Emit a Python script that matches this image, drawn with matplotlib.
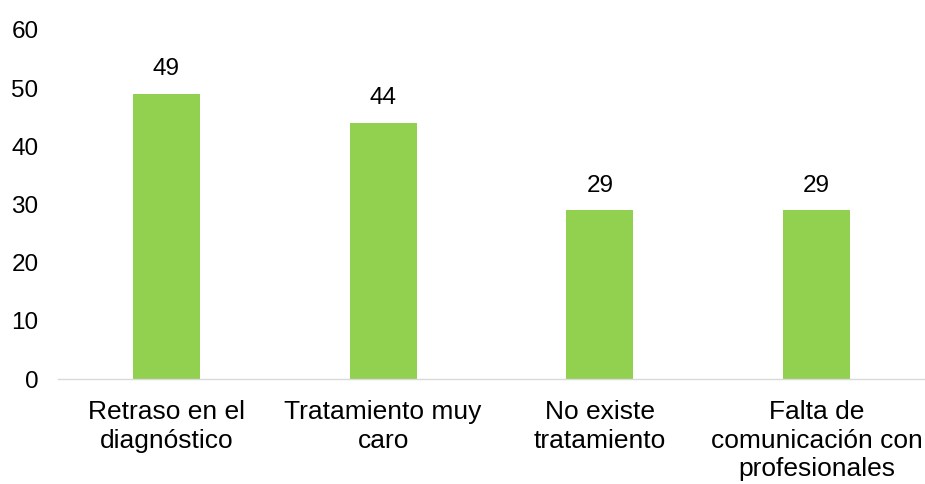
import matplotlib
matplotlib.use("Agg")
import matplotlib.pyplot as plt

categories = ["Retraso en el\ndiagnóstico", "Tratamiento muy\ncaro", "No existe\ntratamiento",
              "Falta de\ncomunicación con\nprofesionales"]
values = [49, 44, 29, 29]
yticks = [0, 10, 20, 30, 40, 50, 60]

plt.rcParams['font.family'] = ['Liberation Sans', 'DejaVu Sans']

fig = plt.figure(figsize=(9.25, 4.84), dpi=100)
ax = fig.add_axes([58/925, 105/484, 867/925, 349/484])
x = range(len(categories))
ax.bar(x, values, width=0.31, color='#92D050')
for xi, v in zip(x, values):
    ax.annotate(str(v), (xi, v), xytext=(0, 13.5), textcoords='offset points',
                ha='center', va='baseline', fontsize=17.5, color='black')
ax.set_xlim(-0.5, 3.5)
ax.set_ylim(0, 60)
ax.set_yticks(yticks)
ax.set_xticks(list(x))
ax.set_xticklabels(categories, fontsize=19, linespacing=1.25)
ax.tick_params(axis='y', length=0, labelsize=17.5, pad=14)
ax.tick_params(axis='x', length=0, pad=15)
for s in ['top', 'right', 'left']:
    ax.spines[s].set_visible(False)
ax.spines['bottom'].set_color('#d9d9d9')
ax.spines['bottom'].set_linewidth(1)
fig.savefig("out.png", dpi=100)
